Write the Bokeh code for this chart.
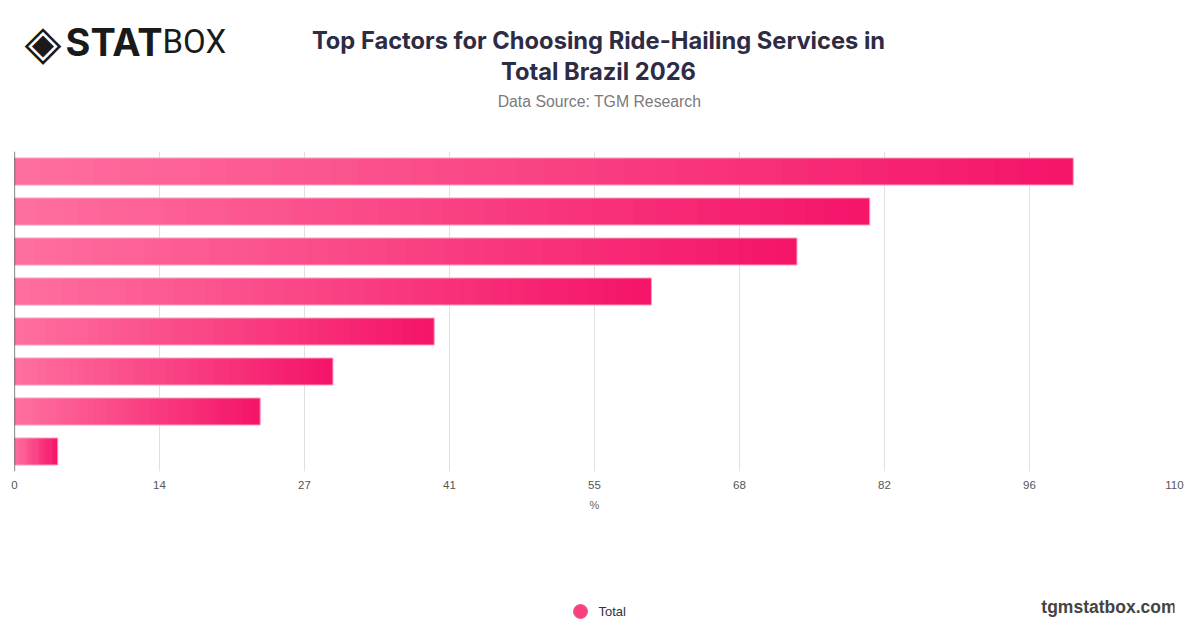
import numpy as np
from bokeh.plotting import figure
from bokeh.layouts import column
from bokeh.models import FactorRange, Range1d, FixedTicker, Span
from bokeh.core.properties import value
from bokeh.embed import file_html
from bokeh.resources import INLINE

# ---------------- data ----------------
categories = ["Factor 1", "Factor 2", "Factor 3", "Factor 4",
              "Factor 5", "Factor 6", "Factor 7", "Factor 8"]
values = [100.4, 81.1, 74.2, 60.4, 39.8, 30.2, 23.3, 4.1]
tick_values = [0, 13.75, 27.5, 41.25, 55, 68.75, 82.5, 96.25, 110]
tick_labels = ["0", "14", "27", "41", "55", "68", "82", "96", "110"]
series_name = "Total"
title_lines = ["Top Factors for Choosing Ride-Hailing Services in",
               "Total Brazil 2026"]
subtitle = "Data Source: TGM Research"
x_label = "%"

# ---------------- styles ----------------
W = 1200
BL, BR = 14, 26          # frame borders shared by all rows
H_HEAD, H_MAIN, H_FOOT = 140, 380, 108
C_LEFT = np.array([255, 112, 160])
C_RIGHT = np.array([245, 20, 105])
N_SLICES = 40
TITLE_COLOR = "#2e2b45"


def blank(h, y0):
    f = figure(width=W, height=h, x_range=Range1d(BL, W - BR),
               y_range=Range1d(y0 + h, y0), output_backend="svg",
               toolbar_location=None, min_border=0,
               min_border_left=BL, min_border_right=BR)
    f.axis.visible = False
    f.grid.visible = False
    f.outline_line_color = None
    f.background_fill_color = "white"
    f.border_fill_color = "white"
    return f


# ---------------- header ----------------
head = blank(H_HEAD, 0)
head.text(x=[598, 598], y=[40, 71], text=title_lines,
          text_align="center", text_baseline="middle",
          text_font=value("Inter"), text_font_style="bold",
          text_font_size="23.7px", text_color=TITLE_COLOR)
head.text(x=[599], y=[101], text=[subtitle], text_align="center",
          text_baseline="middle", text_font=value("Liberation Sans"),
          text_font_size="15.8px", text_color="#7a7a7a")
head.text(x=[24], y=[41], text=["◈"], text_align="left",
          text_baseline="middle", text_font=value("DejaVu Sans"),
          text_font_size="48px", text_color="#1a1a1a")
head.text(x=[65], y=[41], text=["STAT"], text_align="left",
          text_baseline="middle", text_font=value("Inter"),
          text_font_style="bold", text_font_size="38px", text_color="#1a1a1a")
head.text(x=[162], y=[41], text=["BOX"], text_align="left",
          text_baseline="middle", text_font=value("Roboto"),
          text_font_size="33px", text_color="#1a1a1a")

# ---------------- main chart ----------------
p = figure(width=W, height=H_MAIN,
           x_range=Range1d(0, 110),
           y_range=FactorRange(factors=categories[::-1]),
           output_backend="svg", toolbar_location=None,
           min_border_left=BL, min_border_right=BR,
           min_border_top=11, min_border_bottom=49)
p.outline_line_color = None
p.background_fill_color = "white"
p.border_fill_color = "white"

ys, lefts, rights, cols = [], [], [], []
for cat, v in zip(categories, values):
    for k in range(N_SLICES):
        t = (k + 0.5) / N_SLICES
        c = (C_LEFT * (1 - t) + C_RIGHT * t).astype(int)
        ys.append(cat)
        lefts.append(v * k / N_SLICES)
        rights.append(min(v, v * (k + 1.6) / N_SLICES))
        cols.append("#%02x%02x%02x" % tuple(c))
p.hbar(y=ys, left=lefts, right=rights, height=0.675,
       fill_color=cols, line_color=None)
p.hbar(y=categories, left=0, right=values, height=0.675,
       fill_alpha=0, line_color="#ff9cc0", line_width=1)

p.yaxis.visible = False
p.ygrid.visible = False
p.xaxis.ticker = FixedTicker(ticks=tick_values)
p.xgrid.ticker = FixedTicker(ticks=tick_values)
p.xaxis.major_label_overrides = {tv: tl for tv, tl in zip(tick_values, tick_labels)}
p.xaxis.axis_line_color = None
p.xaxis.major_tick_line_color = None
p.xaxis.minor_tick_line_color = None
p.xaxis.major_tick_out = 0
p.xaxis.major_tick_in = 0
p.xaxis.major_label_standoff = 9
p.xaxis.major_label_text_font = "Liberation Sans"
p.xaxis.major_label_text_font_size = "11.5px"
p.xaxis.major_label_text_color = "#555555"
p.xaxis.axis_label = x_label
p.xaxis.axis_label_text_font = "Liberation Sans"
p.xaxis.axis_label_text_font_size = "11px"
p.xaxis.axis_label_text_font_style = "normal"
p.xaxis.axis_label_text_color = "#666666"
p.xaxis.axis_label_standoff = 7
p.xgrid.grid_line_color = "#e0e0e0"
p.xgrid.grid_line_width = 1
p.add_layout(Span(location=0, dimension="height", line_color="#333333",
                  line_width=1.2))

# ---------------- footer ----------------
foot = blank(H_FOOT, H_MAIN + H_HEAD)
foot.scatter(x=[580], y=[611], marker="circle", size=14,
             fill_color="#f7407f", line_color="#f05a8c", line_width=1)
foot.text(x=[598], y=[611], text=[series_name], text_align="left",
          text_baseline="middle", text_font=value("Liberation Sans"),
          text_font_size="13px", text_color="#333333")
foot.text(x=[1176], y=[606], text=["tgmstatbox.com"], text_align="right",
          text_baseline="middle", text_font=value("Liberation Sans"),
          text_font_style="bold", text_font_size="17.5px", text_color="#444444")

layout = column(head, p, foot, spacing=0)
open("out.html", "w").write(file_html(layout, INLINE))
